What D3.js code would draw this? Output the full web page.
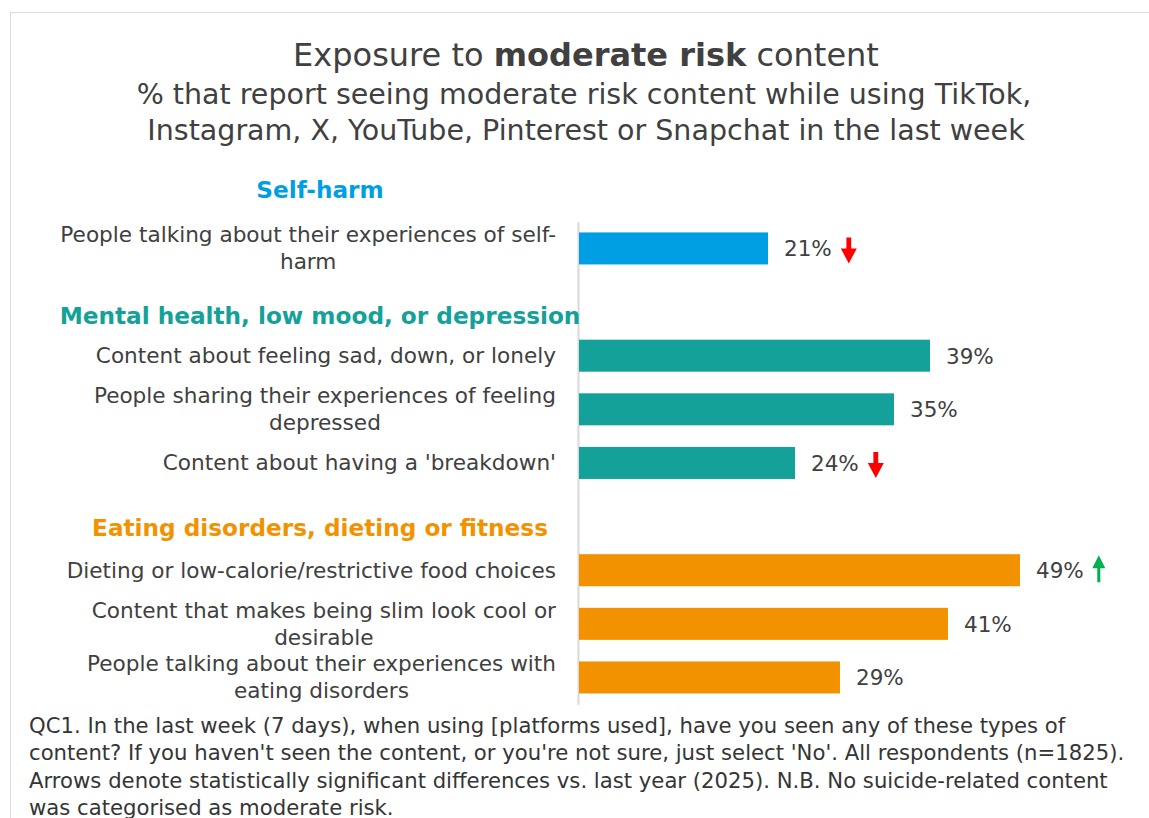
<!DOCTYPE html>
<html>
<head>
<meta charset="utf-8">
<script src="https://cdn.jsdelivr.net/npm/d3@7"></script>
<style>
  html, body { margin: 0; padding: 0; background: #fff; }
  svg { display: block; }
  text { font-family: "DejaVu Sans", "Verdana", sans-serif; }
</style>
</head>
<body>
<svg id="chart" width="1149" height="818"></svg>
<script>
// Topic groups and the items reported under each
const groupNames = ["Self-harm", "Mental health, low mood, or depression", "Eating disorders, dieting or fitness"];
const itemLabels = [
  ["People talking about their experiences of self-", "harm"],
  ["Content about feeling sad, down, or lonely"],
  ["People sharing their experiences of feeling", "depressed"],
  ["Content about having a 'breakdown'"],
  ["Dieting or low-calorie/restrictive food choices"],
  ["Content that makes being slim look cool or", "desirable"],
  ["People talking about their experiences with", "eating disorders"]
];
const itemGroup = [0, 1, 1, 1, 2, 2, 2];
// % who report seeing the content
const itemValues = [21, 39, 35, 24, 49, 41, 29];
// significant change vs. last year: -1 down, +1 up, 0 none
const itemChange = [-1, 0, 0, -1, 1, 0, 0];

const footnoteLines = [
  "QC1. In the last week (7 days), when using [platforms used], have you seen any of these types of",
  "content? If you haven't seen the content, or you're not sure, just select 'No'. All respondents (n=1825).",
  "Arrows denote statistically significant differences vs. last year (2025). N.B. No suicide-related content",
  "was categorised as moderate risk."
];

const groupColors = ["#009fe3", "#13a19a", "#f39200"];
const textColor = "#404040";

const svg = d3.select("#chart");

// outer frame
svg.append("rect")
  .attr("x", 10.5).attr("y", 12.5)
  .attr("width", 1400).attr("height", 1000)
  .attr("fill", "none").attr("stroke", "#dcdcdc").attr("stroke-width", 1);

// title block
const title = svg.append("text")
  .attr("x", 586).attr("y", 66)
  .attr("text-anchor", "middle")
  .attr("fill", textColor)
  .style("font-size", "32px");
title.append("tspan").text("Exposure to ");
title.append("tspan").attr("font-weight", "bold").text("moderate risk");
title.append("tspan").text(" content");

svg.append("text")
  .attr("x", 584).attr("y", 104)
  .attr("text-anchor", "middle").attr("fill", textColor)
  .style("font-size", "28.5px")
  .text("% that report seeing moderate risk content while using TikTok,");
svg.append("text")
  .attr("x", 586).attr("y", 140)
  .attr("text-anchor", "middle").attr("fill", textColor)
  .style("font-size", "28.5px")
  .text("Instagram, X, YouTube, Pinterest or Snapchat in the last week");

// row slots: a heading slot precedes each group after the first
const slots = [];
itemValues.forEach((v, i) => {
  if (i > 0 && itemGroup[i] !== itemGroup[i - 1]) slots.push("h" + itemGroup[i]);
  slots.push("i" + i);
});

const y = d3.scaleBand()
  .domain(slots)
  .range([221.7, 704.2])
  .paddingInner(0.403)
  .paddingOuter(0.2);

const x = d3.scaleLinear().domain([0, 50]).range([579, 1029]);

const g = svg.append("g");

// baseline axis
const axis = d3.axisLeft(y).tickSize(0).tickFormat("");
const axisG = g.append("g").attr("transform", `translate(${x(0) - 1},0)`).call(axis);
axisG.select(".domain").attr("stroke", "#d9d9d9").attr("stroke-width", 2);

const items = itemValues.map((v, i) => ({
  key: "i" + i, value: v, group: itemGroup[i], lines: itemLabels[i], change: itemChange[i]
}));

// bars
g.selectAll("rect.bar").data(items).join("rect")
  .attr("class", "bar")
  .attr("x", x(0))
  .attr("y", d => y(d.key))
  .attr("width", d => x(d.value) - x(0))
  .attr("height", y.bandwidth())
  .attr("fill", d => groupColors[d.group]);

// category labels (centred lines, right-aligned block)
const labelRight = 556;
const labelSize = "21.6px";
items.forEach(d => {
  const cy = y(d.key) + y.bandwidth() / 2;
  const t = g.append("text")
    .attr("fill", textColor)
    .style("font-size", labelSize)
    .attr("text-anchor", "middle");
  const n = d.lines.length;
  const tmp = svg.append("text").style("font-size", labelSize);
  const widths = d.lines.map(s => { tmp.text(s); return tmp.node().getComputedTextLength(); });
  tmp.remove();
  const blockW = d3.max(widths);
  const cx = labelRight - blockW / 2;
  d.lines.forEach((s, k) => {
    t.append("tspan")
      .attr("x", cx)
      .attr("y", cy + 7.5 + (k - (n - 1) / 2) * 27)
      .text(s);
  });
});

// value labels
const valueLabels = g.selectAll("text.val").data(items).join("text")
  .attr("class", "val")
  .attr("x", d => x(d.value) + 16)
  .attr("y", d => y(d.key) + y.bandwidth() / 2 + 8)
  .attr("fill", textColor)
  .style("font-size", "21.5px")
  .text(d => d.value + "%");

// significance arrows
valueLabels.each(function(d) {
  if (!d.change) return;
  const w = this.getComputedTextLength();
  const textEnd = x(d.value) + 16 + w;
  let path;
  if (d.change < 0) {
    const cx = textEnd + 17;
    const top = y(d.key) + 5, bot = y(d.key) + y.bandwidth() - 1;
    const hw = 8, sw = 2.4, headTop = bot - 15;
    path = `M${cx - sw},${top} L${cx + sw},${top} L${cx + sw},${headTop} L${cx + hw},${headTop} L${cx},${bot} L${cx - hw},${headTop} L${cx - sw},${headTop} Z`;
  } else {
    const cx = textEnd + 15;
    const hw = 6.5, sw = 1.5, t2 = y(d.key) + 1, b2 = y(d.key) + 28, headBot = t2 + 13;
    path = `M${cx},${t2} L${cx + hw},${headBot} L${cx + sw},${headBot} L${cx + sw},${b2} L${cx - sw},${b2} L${cx - sw},${headBot} L${cx - hw},${headBot} Z`;
  }
  g.append("path").attr("d", path).attr("fill", d.change < 0 ? "#ff0000" : "#00b050");
});

// group headings
const headingOffsets = [-50.5, -32, -34];
groupNames.forEach((name, gi) => {
  const first = items.find(d => d.group === gi);
  g.append("text")
    .attr("x", 320)
    .attr("y", y(first.key) + y.bandwidth() / 2 + headingOffsets[gi])
    .attr("text-anchor", "middle")
    .attr("fill", groupColors[gi])
    .attr("font-weight", "bold")
    .style("font-size", "23.2px")
    .text(name);
});

// footnote
svg.append("text")
  .attr("fill", "#353535")
  .style("font-size", "21.2px")
  .selectAll("tspan").data(footnoteLines).join("tspan")
  .attr("x", 29)
  .attr("y", (d, i) => 733 + i * 27.3)
  .text(d => d);
</script>
</body>
</html>
